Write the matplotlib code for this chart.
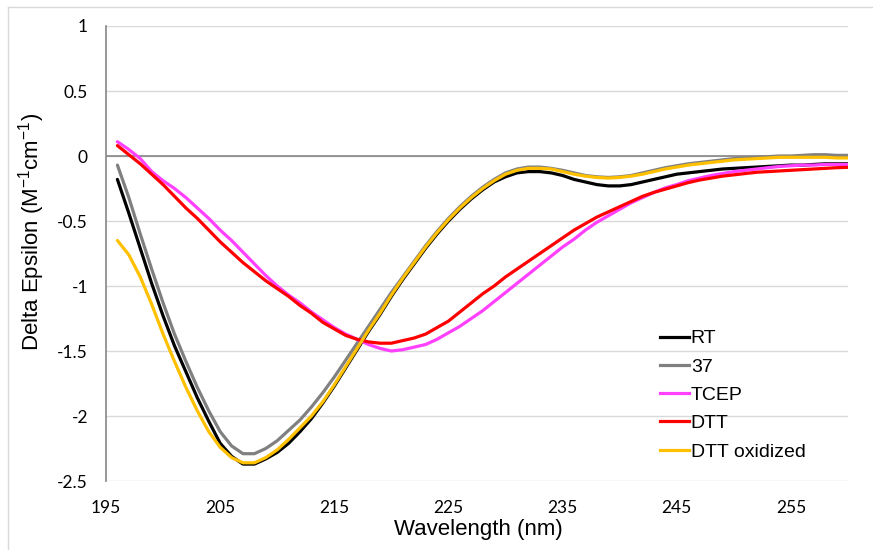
import numpy as np
import matplotlib
matplotlib.use("Agg")
import matplotlib.pyplot as plt
from matplotlib.lines import Line2D

# Données
wavelength = list(range(196, 261))

rt = [-0.18, -0.44, -0.71, -0.98, -1.23, -1.46, -1.66, -1.86, -2.04, -2.21,
      -2.31, -2.37, -2.37, -2.33, -2.28, -2.21, -2.12, -2.02, -1.90, -1.77,
      -1.63, -1.49, -1.35, -1.22, -1.08, -0.95, -0.83, -0.71, -0.60, -0.50,
      -0.41, -0.33, -0.26, -0.20, -0.16, -0.13, -0.12, -0.12, -0.13, -0.15,
      -0.18, -0.20, -0.22, -0.23, -0.23, -0.22, -0.20, -0.18, -0.16, -0.14,
      -0.13, -0.12, -0.11, -0.10, -0.095, -0.09, -0.085, -0.08, -0.075, -0.07,
      -0.07, -0.065, -0.06, -0.06, -0.06]

t37 = [-0.07, -0.32, -0.60, -0.87, -1.13, -1.37, -1.58, -1.78, -1.96, -2.12,
       -2.23, -2.29, -2.29, -2.25, -2.19, -2.11, -2.03, -1.93, -1.82, -1.70,
       -1.57, -1.44, -1.31, -1.18, -1.05, -0.93, -0.81, -0.69, -0.58, -0.48,
       -0.39, -0.31, -0.24, -0.18, -0.13, -0.10, -0.085, -0.085, -0.095, -0.11,
       -0.13, -0.15, -0.16, -0.165, -0.16, -0.15, -0.13, -0.11, -0.09, -0.075,
       -0.06, -0.05, -0.04, -0.03, -0.02, -0.015, -0.01, -0.005, 0.0, 0.0,
       0.005, 0.01, 0.01, 0.005, 0.005]

tcep = [0.11, 0.05, -0.02, -0.12, -0.19, -0.25, -0.32, -0.40, -0.48, -0.57,
        -0.65, -0.74, -0.83, -0.92, -1.00, -1.07, -1.13, -1.20, -1.26, -1.32,
        -1.37, -1.41, -1.45, -1.48, -1.50, -1.49, -1.47, -1.45, -1.41, -1.36,
        -1.31, -1.25, -1.19, -1.12, -1.05, -0.98, -0.91, -0.84, -0.77, -0.70,
        -0.64, -0.57, -0.51, -0.46, -0.41, -0.36, -0.32, -0.28, -0.245, -0.22,
        -0.19, -0.17, -0.15, -0.135, -0.12, -0.11, -0.10, -0.09, -0.08, -0.075,
        -0.07, -0.07, -0.065, -0.065, -0.065]

dtt = [0.08, 0.01, -0.06, -0.14, -0.22, -0.31, -0.40, -0.48, -0.57, -0.66,
       -0.74, -0.82, -0.89, -0.96, -1.02, -1.08, -1.15, -1.21, -1.28, -1.33,
       -1.38, -1.41, -1.43, -1.44, -1.44, -1.42, -1.40, -1.37, -1.32, -1.27,
       -1.20, -1.13, -1.06, -1.00, -0.93, -0.87, -0.81, -0.75, -0.69, -0.63,
       -0.57, -0.52, -0.47, -0.43, -0.39, -0.35, -0.31, -0.28, -0.255, -0.23,
       -0.205, -0.185, -0.17, -0.155, -0.145, -0.135, -0.125, -0.12, -0.115, -0.11,
       -0.105, -0.10, -0.095, -0.09, -0.087]

dtt_ox = [-0.65, -0.76, -0.93, -1.14, -1.37, -1.58, -1.78, -1.96, -2.12, -2.24,
          -2.32, -2.36, -2.36, -2.32, -2.26, -2.18, -2.09, -2.00, -1.89, -1.76,
          -1.62, -1.48, -1.34, -1.21, -1.07, -0.94, -0.82, -0.70, -0.59, -0.49,
          -0.40, -0.32, -0.25, -0.19, -0.14, -0.11, -0.095, -0.095, -0.10, -0.12,
          -0.14, -0.155, -0.165, -0.17, -0.165, -0.155, -0.14, -0.12, -0.10, -0.085,
          -0.07, -0.06, -0.05, -0.04, -0.03, -0.025, -0.02, -0.015, -0.01, -0.01,
          -0.01, -0.01, -0.01, -0.015, -0.015]

labels = ["RT", "37", "TCEP", "DTT", "DTT oxidized"]
colors = ["#000000", "#808080", "#ff40ff", "#ff0000", "#ffc000"]
xticks = [195, 205, 215, 225, 235, 245, 255]
yticks = [1, 0.5, 0, -0.5, -1, -1.5, -2, -2.5]

plt.rcParams['mathtext.default'] = 'regular'

W, H = 873, 550
fig = plt.figure(figsize=(W / 100, H / 100), dpi=100)
ax = fig.add_axes([106 / W, 1 - 481 / H, (848 - 106) / W, (481 - 26) / H])

for y, lab, c in zip([rt, t37, tcep, dtt, dtt_ox], labels, colors):
    ax.plot(wavelength, y, color=c, lw=2.3, label=lab, solid_capstyle='round')

ax.set_xlim(195, 260)
ax.set_ylim(-2.5, 1)
ax.set_xticks(xticks)
ax.set_yticks(yticks)
ax.set_yticklabels([f"{v:g}" for v in yticks])
ax.tick_params(length=0, labelsize=12.5, pad=13)
for lbl in ax.get_xticklabels() + ax.get_yticklabels():
    lbl.set_fontfamily("Lato")
ax.tick_params(axis='x', pad=14)

ax.grid(axis='y', color='#d9d9d9', lw=1)
ax.set_axisbelow(True)
for s in ['top', 'right', 'bottom']:
    ax.spines[s].set_visible(False)
ax.spines['left'].set_color('#868686')
ax.spines['left'].set_linewidth(1.2)
ax.axhline(0, color='#868686', lw=1.2, zorder=1.5)

fig.text(478 / W, 1 - 530 / H, "Wavelength (nm)", ha='center', va='center',
         fontsize=16, family='Liberation Sans')
fig.text(32 / W, 1 - 232 / H, "Delta Epsilon (M$^{-1}$cm$^{-1}$)", ha='center',
         va='center', rotation=90, fontsize=16, family='Liberation Sans')

handles = [Line2D([0], [0], color=c, lw=2.3) for c in colors]
leg = ax.legend(handles, labels, loc='upper left', bbox_to_anchor=(650 / W, 1 - 320 / H),
                bbox_transform=fig.transFigure, frameon=False,
                prop={'family': 'Liberation Sans', 'size': 14},
                handlelength=1.5, handletextpad=0.1, labelspacing=0.55, borderpad=0)

# cadre extérieur gris clair
fig.add_artist(Line2D([8 / W, 8 / W], [0, 1 - 7 / H], color='#d9d9d9', lw=1,
                      transform=fig.transFigure))
fig.add_artist(Line2D([8 / W, 1], [1 - 7 / H, 1 - 7 / H], color='#d9d9d9', lw=1,
                      transform=fig.transFigure))

fig.savefig("out.png", dpi=100)
